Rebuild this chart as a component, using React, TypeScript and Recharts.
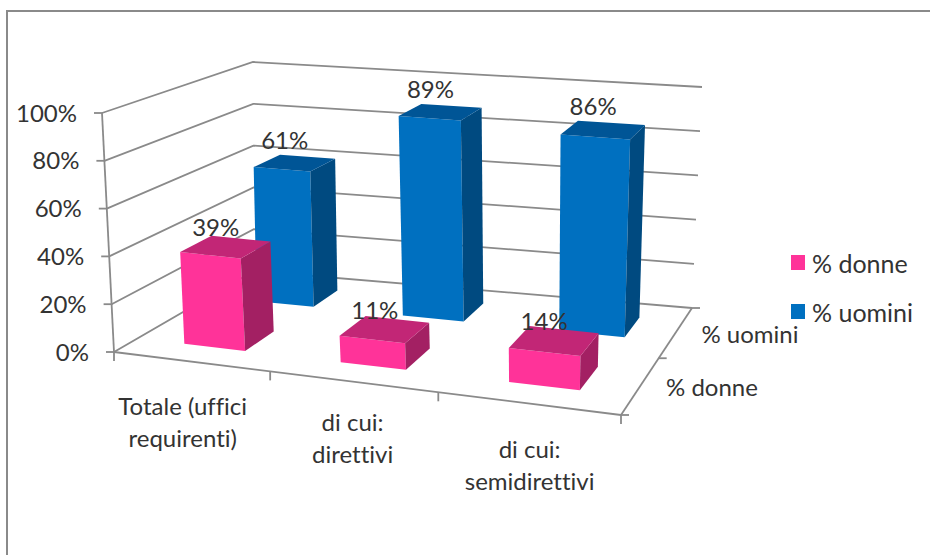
import React from "react";
import { BarChart, Bar, CartesianGrid, LabelList, Legend, XAxis, YAxis } from "recharts";

const categories = ["Totale (uffici requirenti)", "di cui: direttivi", "di cui: semidirettivi"];
const categoryLines = [["Totale (uffici", "requirenti)"], ["di cui:", "direttivi"], ["di cui:", "semidirettivi"]];
const donne = [39, 11, 14];
const uomini = [61, 89, 86];
const yTicks = [0, 20, 40, 60, 80, 100];
const depthLabels = ["% donne", "% uomini"];

const data = categories.map((name, i) => ({ name, donne: donne[i], uomini: uomini[i] }));

const FONT = "Lato, 'Open Sans', sans-serif";
const TEXT = "#333333";
const GRID = "#8a8a8a";
const textStyle = { fontVariantLigatures: "none" } as React.CSSProperties;

// flat plot area, the scales work in here and project() bends it into the box
const PLOT = { left: 114, right: 620, top: 113, bottom: 351 };

type Pt = [number, number];
type Quad = [Pt, Pt, Pt, Pt];

// corners: front-left, front-right, back-right, back-left
const FLOOR: Quad = [[114, 352], [621, 415], [692, 308], [254, 271]];
const CEILING: Quad = [[102, 113], [631, 165], [702, 87], [253, 62]];
// the pure homography converges too hard, so mix it with a plain bilinear map
const PERSPECTIVE = 0.6;

function makeHomography([p0, p1, p2, p3]: Quad) {
  const sx = p0[0] - p1[0] + p2[0] - p3[0];
  const sy = p0[1] - p1[1] + p2[1] - p3[1];
  const dx1 = p1[0] - p2[0];
  const dx2 = p3[0] - p2[0];
  const dy1 = p1[1] - p2[1];
  const dy2 = p3[1] - p2[1];
  const den = dx1 * dy2 - dx2 * dy1;
  const g = (sx * dy2 - dx2 * sy) / den;
  const h = (dx1 * sy - sx * dy1) / den;
  const a = p1[0] - p0[0] + g * p1[0];
  const b = p3[0] - p0[0] + h * p3[0];
  const d = p1[1] - p0[1] + g * p1[1];
  const e = p3[1] - p0[1] + h * p3[1];
  return (u: number, t: number): Pt => {
    const w = g * u + h * t + 1;
    const hx = (a * u + b * t + p0[0]) / w;
    const hy = (d * u + e * t + p0[1]) / w;
    const bl = (i: 0 | 1) =>
      p0[i] * (1 - u) * (1 - t) + p1[i] * u * (1 - t) + p2[i] * u * t + p3[i] * (1 - u) * t;
    return [hx * PERSPECTIVE + bl(0) * (1 - PERSPECTIVE), hy * PERSPECTIVE + bl(1) * (1 - PERSPECTIVE)];
  };
}

const floorAt = makeHomography(FLOOR);
const ceilingAt = makeHomography(CEILING);

function project(u: number, depth: number, v: number): Pt {
  const f = floorAt(u, depth);
  const c = ceilingAt(u, depth);
  return [f[0] + (c[0] - f[0]) * v, f[1] + (c[1] - f[1]) * v];
}

const toU = (x: number) => (x - PLOT.left) / (PLOT.right - PLOT.left);
const toV = (y: number) => (PLOT.bottom - y) / (PLOT.bottom - PLOT.top);
const pts = (list: Pt[]) => list.map((p) => p.join(",")).join(" ");

type Row = { d0: number; d1: number; uShift: number; labelDy: number };

const ROW_DONNE: Row = { d0: 0.155, d1: 0.37, uShift: 0.004, labelDy: -19 };
const ROW_UOMINI: Row = { d0: 0.66, d1: 0.86, uShift: 0.012, labelDy: -23 };

function makeBox({ d0, d1, uShift }: Row, front: string, top: string, side: string) {
  return function Box(props: any) {
    const { x, y, width } = props;
    const u0 = toU(x) + uShift;
    const u1 = toU(x + width) + uShift;
    const v = toV(y);
    return (
      <g>
        <polygon fill={front} points={pts([project(u0, d0, 0), project(u1, d0, 0), project(u1, d0, v), project(u0, d0, v)])} />
        <polygon fill={side} points={pts([project(u1, d0, 0), project(u1, d1, 0), project(u1, d1, v), project(u1, d0, v)])} />
        <polygon fill={top} points={pts([project(u0, d0, v), project(u1, d0, v), project(u1, d1, v), project(u0, d1, v)])} />
      </g>
    );
  };
}

const DonneBox = makeBox(ROW_DONNE, "#ff3399", "#c22676", "#a32063");
const UominiBox = makeBox(ROW_UOMINI, "#0070c0", "#005596", "#004a80");

function makeValueLabel({ d0, d1, uShift, labelDy }: Row) {
  return function ValueLabel(props: any) {
    const { x, y, width, value } = props;
    const [px, py] = project(toU(x + width / 2) + uShift, (d0 + d1) / 2, toV(y));
    return (
      <text x={px - 10} y={py + labelDy} dy="0.36em" textAnchor="middle" fontFamily={FONT} fontSize={24} fill={TEXT} style={textStyle}>
        {value}%
      </text>
    );
  };
}

const line = (a: Pt, b: Pt, key: string) => (
  <line key={key} x1={a[0]} y1={a[1]} x2={b[0]} y2={b[1]} stroke={GRID} strokeWidth={1.8} />
);

// one gridline per y tick, bent along the side and back walls. floor frame hangs on the 0 line.
function WallLine(props: any) {
  const v = toV(props.y1);
  const isFloor = Math.abs(v) < 0.001;
  const parts = [
    <polyline key="wall" points={pts([project(0, 0, v), project(0, 1, v), project(1, 1, v)])} fill="none" stroke={GRID} strokeWidth={1.8} />,
  ];
  if (isFloor) {
    const front0 = project(0, 0, 0);
    const front1 = project(1, 0, 0);
    const back1 = project(1, 1, 0);
    parts.push(line(front0, project(0, 0, 1), "yaxis"));
    parts.push(line(front0, front1, "front"));
    parts.push(line(front1, back1, "depth"));
    [0, 1 / 3, 2 / 3, 1].forEach((u, i) => {
      const p = project(u, 0, 0);
      parts.push(line(p, [p[0], p[1] + 9], `xt${i}`));
    });
    [0, 0.5, 1].forEach((d, i) => {
      const p = project(1, d, 0);
      parts.push(line(p, [p[0] + 8, p[1]], `dt${i}`));
    });
  }
  return <g>{parts}</g>;
}

function YTick(props: any) {
  const v = toV(props.y);
  const [px, py] = project(0, 0, v);
  return (
    <g>
      {line([px - 8, py], [px, py], "t")}
      <text x={px - 25} y={py} dy="0.36em" textAnchor="end" fontFamily={FONT} fontSize={24} fill={TEXT} style={textStyle}>
        {props.payload.value}%
      </text>
    </g>
  );
}

const xLabelOffset = [
  [-8, 44.5],
  [0, 41],
  [2, 46],
];

function XTick(props: any) {
  const i = props.index;
  const [px, py] = project(toU(props.x), 0, 0);
  return (
    <g>
      {categoryLines[i].map((t, k) => (
        <text key={t} x={px + xLabelOffset[i][0]} y={py + xLabelOffset[i][1] + k * 32} dy="0.36em" textAnchor="middle" fontFamily={FONT} fontSize={24} fill={TEXT} style={textStyle}>
          {t}
        </text>
      ))}
    </g>
  );
}

function LegendBox({ payload }: any) {
  return (
    <div style={{ fontFamily: FONT, fontSize: 25, color: TEXT }}>
      {(payload ?? []).map((item: any) => (
        <div key={item.value} style={{ display: "flex", alignItems: "center", height: 49 }}>
          <span style={{ width: 14, height: 15, background: item.color, marginRight: 7 }} />
          {item.value}
        </div>
      ))}
    </div>
  );
}

export default function App() {
  return (
    <div style={{ position: "absolute", left: 0, top: 0, width: 930, height: 555, background: "#fff", overflow: "hidden" }}>
      <div style={{ position: "absolute", left: 6, top: 10, width: 940, height: 600, border: "2px solid #8a8a8a" }} />
      <BarChart
        width={930}
        height={555}
        data={data}
        margin={{ top: PLOT.top, right: 930 - PLOT.right, bottom: 555 - PLOT.bottom - 60, left: PLOT.left - 60 }}
        barCategoryGap="30%"
      >
        <CartesianGrid vertical={false} horizontal={WallLine as any} />
        <XAxis xAxisId="front" dataKey="name" height={60} axisLine={false} tickLine={false} tick={XTick} interval={0} />
        <XAxis xAxisId="back" dataKey="name" hide />
        <YAxis width={60} domain={[0, 100]} ticks={yTicks} axisLine={false} tickLine={false} tick={YTick} interval={0} />
        <Legend
          layout="vertical"
          align="center"
          verticalAlign="middle"
          wrapperStyle={{ left: 791, top: 238, width: 135 }}
          content={LegendBox as any}
        />
        <Bar xAxisId="back" dataKey="uomini" name={depthLabels[1]} fill="#0070c0" shape={UominiBox} isAnimationActive={false}>
          <LabelList dataKey="uomini" content={makeValueLabel(ROW_UOMINI)} />
        </Bar>
        <Bar xAxisId="front" dataKey="donne" name={depthLabels[0]} fill="#ff3399" shape={DonneBox} isAnimationActive={false}>
          <LabelList dataKey="donne" content={makeValueLabel(ROW_DONNE)} />
        </Bar>
        <text x={712} y={387} dy="0.36em" textAnchor="middle" fontFamily={FONT} fontSize={24} fill={TEXT} style={textStyle}>
          {depthLabels[0]}
        </text>
        <text x={750} y={334} dy="0.36em" textAnchor="middle" fontFamily={FONT} fontSize={24} fill={TEXT} style={textStyle}>
          {depthLabels[1]}
        </text>
      </BarChart>
    </div>
  );
}
